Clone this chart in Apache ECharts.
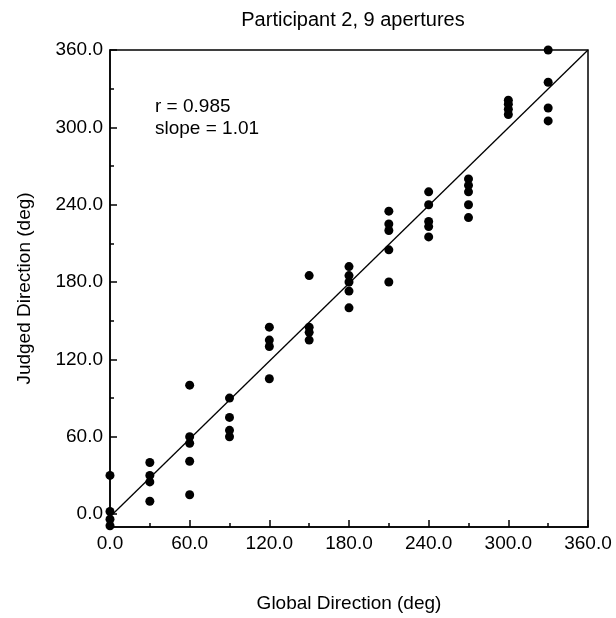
<!DOCTYPE html>
<html>
<head>
<meta charset="utf-8">
<script src="https://cdn.jsdelivr.net/npm/echarts@6/dist/echarts.min.js"></script>
<style>html,body{margin:0;padding:0;background:#fff;}#c{width:616px;height:618px;}</style>
</head>
<body>
<div id="c"></div>
<script>
const directions = [0, 30, 60, 90, 120, 150, 180, 210, 240, 270, 300, 330];
const judged = [
  [30, 2, -4, -9],
  [40, 30, 25, 10],
  [100, 60, 55, 41, 15],
  [90, 75, 65, 60],
  [145, 135, 130, 105],
  [185, 145, 141, 135],
  [192, 185, 180, 173, 160],
  [235, 225, 220, 205, 180],
  [250, 240, 227, 223, 215],
  [260, 255, 250, 240, 230],
  [321, 318, 314, 310],
  [360, 335, 315, 305]
];
const fitLine = [[0, -2], [360, 360]];
const majorTicks = [0, 60, 120, 180, 240, 300, 360];
const minorTicks = [30, 90, 150, 210, 270, 330];
const titleText = 'Participant 2, 9 apertures';
const statsText = ['r = 0.985', 'slope = 1.01'];

const points = [];
directions.forEach((d, i) => judged[i].forEach(v => points.push([d, v])));

const FONT = '"Liberation Sans", Arial, Helvetica, sans-serif';
const FS = 19;
const chart = echarts.init(document.getElementById('c'), null, {renderer: 'canvas'});
chart.setOption({
  animation: false,
  backgroundColor: '#fff',
  title: {
    text: titleText, left: 348, top: 5, textAlign: 'center',
    textStyle: {fontFamily: FONT, fontSize: 20, fontWeight: 'normal', color: '#000'}
  },
  grid: {left: 110, right: 28, top: 50, bottom: 90, show: true, borderColor: '#000', borderWidth: 1.5, backgroundColor: 'transparent'},
  xAxis: {
    type: 'value', min: 0, max: 360, interval: 60,
    name: 'Global Direction (deg)', nameLocation: 'middle', nameGap: 67,
    nameTextStyle: {fontFamily: FONT, fontSize: FS, color: '#000'},
    axisLine: {onZero: false, lineStyle: {color: '#000', width: 1.5}},
    axisTick: {inside: true, length: 7, lineStyle: {color: '#000', width: 1.5}},
    minorTick: {show: true, splitNumber: 2, length: 4, lineStyle: {color: '#000', width: 1.5}},
    splitLine: {show: false},
    axisLabel: {fontFamily: FONT, fontSize: FS, color: '#000', margin: 7, showMaxLabel: true, showMinLabel: true,
      formatter: v => v.toFixed(1)}
  },
  yAxis: [{
    type: 'value', min: -10, max: 360,
    name: 'Judged Direction (deg)', nameLocation: 'middle', nameGap: 76, nameRotate: 90,
    nameTextStyle: {fontFamily: FONT, fontSize: FS, color: '#000'},
    axisLine: {onZero: false, lineStyle: {color: '#000', width: 1.5}},
    axisTick: {inside: true, length: 7, customValues: majorTicks, lineStyle: {color: '#000', width: 1.5}},
    splitLine: {show: false},
    axisLabel: {fontFamily: FONT, fontSize: FS, color: '#000', margin: 7, customValues: majorTicks,
      formatter: v => Number(v).toFixed(1)}
  }, {
    type: 'value', min: -10, max: 360, position: 'left',
    axisLine: {show: false, onZero: false},
    axisTick: {inside: true, length: 4, customValues: minorTicks, lineStyle: {color: '#000', width: 1.5}},
    axisLabel: {show: false},
    splitLine: {show: false}
  }],
  graphic: [
    {type: 'text', x: 155, y: 107, style: {text: statsText[0], font: FS + 'px ' + FONT, fill: '#000', verticalAlign: 'middle'}},
    {type: 'text', x: 155, y: 129, style: {text: statsText[1], font: FS + 'px ' + FONT, fill: '#000', verticalAlign: 'middle'}}
  ],
  series: [
    {type: 'line', data: fitLine, symbol: 'none', lineStyle: {color: '#000', width: 1.3}, z: 1, silent: true},
    {type: 'scatter', data: points, symbol: 'circle', symbolSize: 9, itemStyle: {color: '#000', opacity: 1}, z: 3, clip: false}
  ]
});
</script>
</body>
</html>
